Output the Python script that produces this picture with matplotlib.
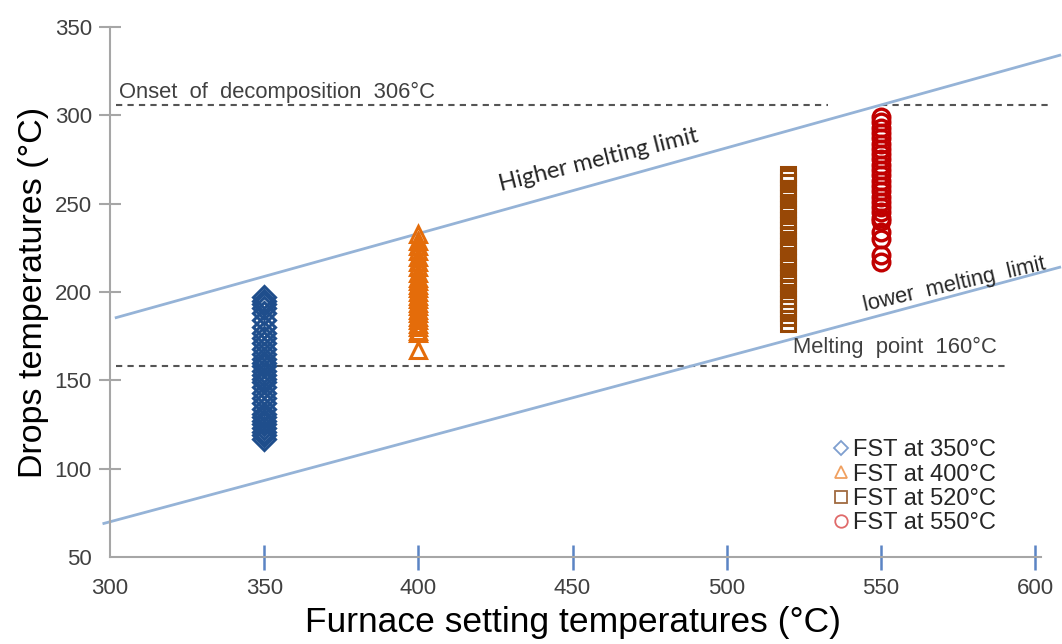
import numpy as np
import matplotlib.pyplot as plt
from matplotlib.lines import Line2D

plt.rcParams['font.family'] = ['Liberation Sans', 'DejaVu Sans']

# drop temperatures, per furnace setting
fst_350 = [117, 119, 121, 123, 125, 127, 129, 131, 134, 137, 140, 143, 146, 149, 151, 153,
           155, 158, 160, 162, 165, 168, 171, 174, 177, 180, 184, 188, 191, 193, 195, 197]
fst_400 = [167, 177, 178, 180, 182, 184, 186, 188, 190, 192, 194, 196, 198, 200, 202, 204,
           206, 208, 211, 214, 217, 220, 223, 226, 229, 233]
fst_520 = [182, 185, 188, 191, 193, 196, 199, 202, 205, 208, 211, 214, 217, 220, 223, 226,
           229, 232, 235, 238, 241, 244, 247, 250, 253, 256, 259, 262, 265, 267]
fst_550 = [217, 221, 230, 234, 240, 242, 245, 248, 251, 254, 257, 260, 263, 266, 269, 272,
           275, 278, 281, 284, 287, 290, 293, 296, 299]

# melting limit lines (x, y at both ends)
higher_x = [302, 608]
higher_y = [185.5, 334]
lower_x = [298, 608]
lower_y = [69, 214]

decomp_temp = 306
melt_temp = 158

fig = plt.figure(figsize=(10.62, 6.44), dpi=100)
ax = fig.add_axes([0.1036, 0.1351, 0.871, 0.823])
ax.set_xlim(300, 600)
ax.set_ylim(50, 350)

# horizontal reference lines
ax.plot([302, 533], [decomp_temp] * 2, ls=(0, (3, 2.5)), color='#555555', lw=1.5, clip_on=False)
ax.plot([550, 605], [decomp_temp] * 2, ls=(0, (3, 2.5)), color='#555555', lw=1.5, clip_on=False)
ax.plot([302, 591], [melt_temp] * 2, ls=(0, (3, 2.5)), color='#555555', lw=1.5, clip_on=False)

# melting limits
ax.plot(higher_x, higher_y, color='#95b3d7', lw=2, clip_on=False)
ax.plot(lower_x, lower_y, color='#95b3d7', lw=2, clip_on=False)

# data columns
ax.plot([350] * len(fst_350), fst_350, ls='none', marker='D', ms=11, mfc='none',
        mec='#1f4e8c', mew=2.2, zorder=5)
ax.plot([400] * len(fst_400), fst_400, ls='none', marker='^', ms=12, mfc='none',
        mec='#e46c0a', mew=2.2, zorder=5)
ax.plot([520] * len(fst_520), fst_520, ls='none', marker='s', ms=10, mfc='none',
        mec='#984806', mew=2.2, zorder=5)
ax.plot([550] * len(fst_550), fst_550, ls='none', marker='o', ms=12, mfc='none',
        mec='#c00000', mew=2.4, zorder=5)

# annotations
ax.text(303, 313, 'Onset  of  decomposition  306°C', fontsize=15.8, color='#404040', va='center')
ax.text(521.5, 168.5, 'Melting  point  160°C', fontsize=15.8, color='#404040', va='center')
ax.text(458.5, 274.5, 'Higher melting limit', fontsize=17, family=['Lato', 'DejaVu Sans'],
        color='#262626', rotation=14, ha='center', va='center', rotation_mode='anchor')
ax.text(574, 204, 'lower  melting  limit', fontsize=15.8, color='#262626', rotation=13,
        ha='center', va='center', rotation_mode='anchor')

# axes styling
for s in ['top', 'right']:
    ax.spines[s].set_visible(False)
ax.spines['left'].set_color('#a6a6a6')
ax.spines['bottom'].set_color('#a6a6a6')
ax.spines['left'].set_linewidth(1.5)
ax.spines['bottom'].set_linewidth(1.5)
ax.spines['bottom'].set_bounds(300, 602)

ax.set_xticks([300, 350, 400, 450, 500, 550, 600])
ax.set_yticks([50, 100, 150, 200, 250, 300, 350])
ax.tick_params(axis='y', direction='inout', length=16, width=1.5, color='#a6a6a6',
               labelsize=16, labelcolor='#404040', pad=5)
ax.tick_params(axis='x', direction='inout', length=18, width=1.8, color='#5b84c4',
               labelsize=16, labelcolor='#404040', pad=6)
ax.xaxis.get_major_ticks()[0].tick1line.set_visible(False)
ax.yaxis.get_major_ticks()[0].tick1line.set_visible(False)

ax.set_xlabel('Furnace setting temperatures (°C)', fontsize=25.5, labelpad=5)
ax.set_ylabel('Drops temperatures (°C)', fontsize=24.5, labelpad=4)

handles = [
    Line2D([], [], ls='none', marker='D', ms=7, mfc='none', mec='#7f9fcf', mew=1.3),
    Line2D([], [], ls='none', marker='^', ms=9, mfc='none', mec='#f0a060', mew=1.3),
    Line2D([], [], ls='none', marker='s', ms=8, mfc='none', mec='#a06a40', mew=1.3),
    Line2D([], [], ls='none', marker='o', ms=9, mfc='none', mec='#e06a6a', mew=1.3),
]
labels = ['FST at 350°C', 'FST at 400°C', 'FST at 520°C', 'FST at 550°C']
ax.legend(handles, labels, loc='upper left', bbox_to_anchor=(0.783, 0.222), frameon=False,
          fontsize=17, handlelength=0.6, handletextpad=0.2, labelspacing=0.1,
          borderpad=0, borderaxespad=0, labelcolor='#262626')

fig.savefig('out.png', dpi=100)
